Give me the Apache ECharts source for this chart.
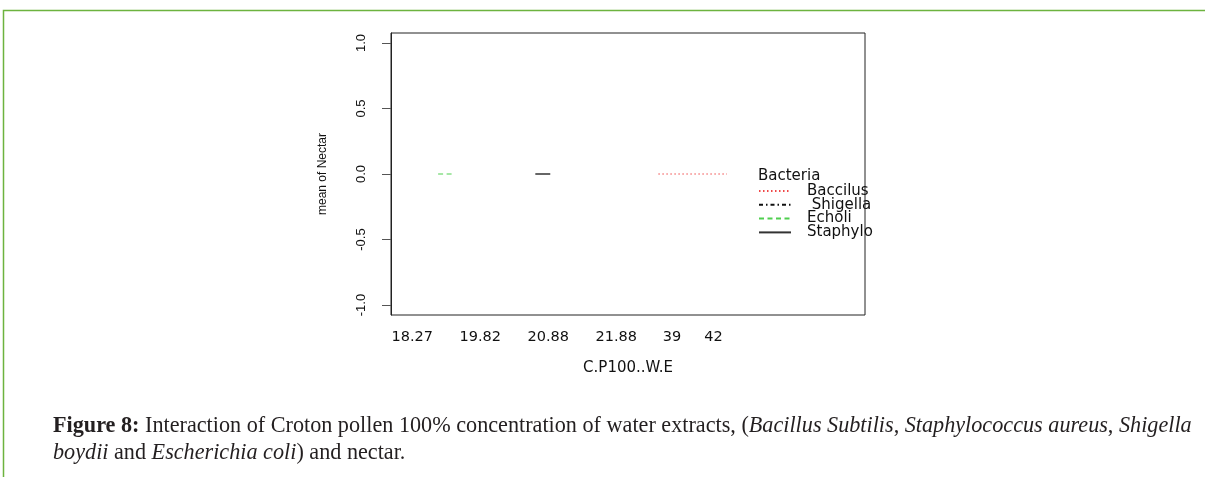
<!DOCTYPE html>
<html>
<head>
<meta charset="utf-8">
<script src="https://cdn.jsdelivr.net/npm/echarts@6/dist/echarts.min.js"></script>
<style>html,body{margin:0;padding:0;background:#fff}#c{width:1205px;height:477px}</style>
</head>
<body>
<div id="c"></div>
<script>
// x levels of C.P100..W.E and their positions on the interaction-plot axis
const xLabels = ['18.27', '19.82', '20.88', '21.88', '39', '42'];
const xLabelPos = [1, 2, 3, 4, 4.82, 5.43];
const yTicks = [-1, -0.5, 0, 0.5, 1];
// traces (mean of Nectar) for each bacterium
const baccilusX = [4.62, 5.63];
const baccilusY = [0, 0];
const shigellaX = [];
const shigellaY = [];
const echoliX = [1.38, 1.60];
const echoliY = [0, 0];
const staphyloX = [2.81, 3.03];
const staphyloY = [0, 0];

const zip = (xs, ys) => xs.map((x, i) => [x, ys[i]]);
const chart = echarts.init(document.getElementById('c'));
const sans = 'Liberation Sans';
const wide = 'DejaVu Sans';
const capFont = 'Liberation Serif';
const capSize = 22.2;
chart.setOption({
  animation: false,
  backgroundColor: '#fff',
  title: [{
    text: '{b|Figure 8:} Interaction of Croton pollen 100% concentration of water extracts, ({i|Bacillus Subtilis}, {i|Staphylococcus aureus}, {i|Shigella}\n{i|boydii} and {i|Escherichia coli}) and nectar.',
    left: 48, top: 408,
    textStyle: {
      fontFamily: capFont, fontSize: capSize, fontWeight: 'normal', color: '#231f20', lineHeight: 27,
      rich: {
        b: { fontFamily: capFont, fontSize: capSize, fontWeight: 'bold', color: '#231f20', lineHeight: 27 },
        i: { fontFamily: capFont, fontSize: capSize, fontStyle: 'italic', color: '#231f20', lineHeight: 27 }
      }
    }
  }, {
    text: 'Bacteria', left: 758, top: 169, padding: 0,
    textStyle: { fontFamily: wide, fontSize: 15, fontWeight: 'normal', color: '#111' }
  }],
  graphic: [{
    type: 'polyline', silent: true,
    shape: { points: [[3.5, 477], [3.5, 10.5], [1205, 10.5]] },
    style: { stroke: '#6db33f', lineWidth: 1.5, fill: null }
  }],
  legend: {
    orient: 'vertical', left: 758, top: 183.5, padding: 0,
    itemWidth: 32, itemHeight: 10, itemGap: -1.2,
    itemStyle: { opacity: 0 },
    textStyle: { fontFamily: wide, fontSize: 15, color: '#111', lineHeight: 13.8, padding: [0, 0, 0, 11] },
    data: ['Baccilus', ' Shigella', 'Echoli', 'Staphylo']
  },
  grid: {
    left: 391, top: 33, width: 474, height: 282,
    show: true, borderColor: '#222', borderWidth: 1, backgroundColor: 'transparent'
  },
  xAxis: {
    type: 'value', min: 0.687, max: 7.66,
    name: 'C.P100..W.E', nameLocation: 'middle', nameGap: 46,
    nameTextStyle: { fontFamily: wide, fontSize: 15, color: '#111' },
    axisLine: { show: false }, axisTick: { show: false }, splitLine: { show: false },
    axisLabel: {
      customValues: xLabelPos, margin: 15,
      fontFamily: wide, fontSize: 14.5, color: '#111',
      formatter: v => {
        let best = 0;
        xLabelPos.forEach((p, i) => { if (Math.abs(p - v) < Math.abs(xLabelPos[best] - v)) best = i; });
        return xLabels[best];
      }
    }
  },
  yAxis: {
    type: 'value', min: -1.076, max: 1.076,
    name: 'mean of Nectar', nameLocation: 'middle', nameGap: 62, nameRotate: 90,
    nameTextStyle: { fontFamily: sans, fontSize: 12, color: '#111' },
    axisLine: { show: true, lineStyle: { color: '#222' } },
    axisTick: { show: true, customValues: yTicks, length: 9, lineStyle: { color: '#555' } },
    splitLine: { show: false },
    axisLabel: {
      customValues: yTicks, rotate: 90, margin: 23,
      fontFamily: sans, fontSize: 13, color: '#111',
      formatter: v => v.toFixed(1)
    }
  },
  series: [{
    name: 'Baccilus', type: 'line', symbol: 'none', data: zip(baccilusX, baccilusY),
    lineStyle: { color: '#f04848', width: 1.1, type: [1.5, 2.5] }, itemStyle: { color: '#f04848' }
  }, {
    name: ' Shigella', type: 'line', symbol: 'none', data: zip(shigellaX, shigellaY),
    lineStyle: { color: '#111', width: 1, type: [4, 3, 1.5, 3] }, itemStyle: { color: '#111' }
  }, {
    name: 'Echoli', type: 'line', symbol: 'none', data: zip(echoliX, echoliY),
    lineStyle: { color: '#4fcf4f', width: 1.2, type: [5, 3.5] }, itemStyle: { color: '#4fcf4f' }
  }, {
    name: 'Staphylo', type: 'line', symbol: 'none', data: zip(staphyloX, staphyloY),
    lineStyle: { color: '#333', width: 1.3, type: 'solid' }, itemStyle: { color: '#333' }
  }]
});
</script>
</body>
</html>
